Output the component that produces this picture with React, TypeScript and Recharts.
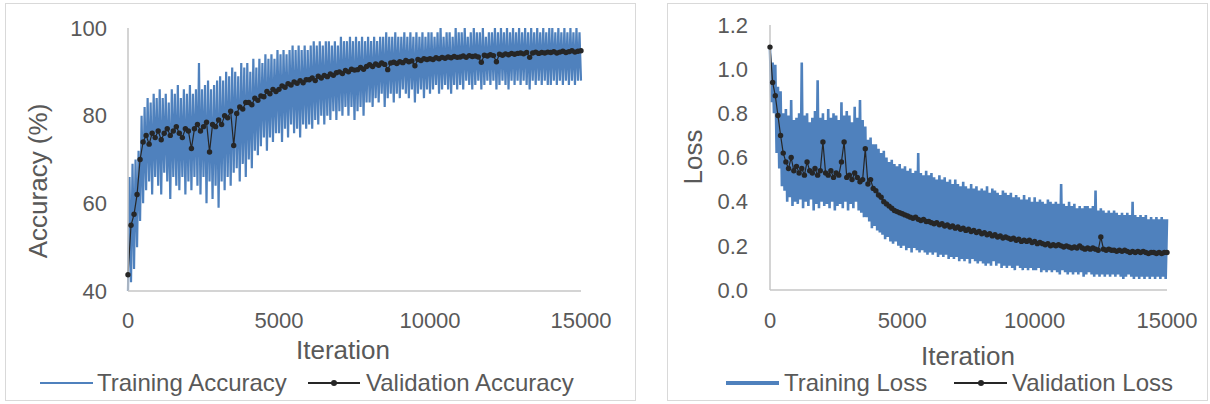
import React from "react";
import { LineChart, Line, XAxis, YAxis } from "recharts";

// training logged every 50 iterations, validation every 100 (0..15000)
const TRAIN_STEP = 50;
const VAL_STEP = 100;

const trainAccuracy = [
  40, 66, 42, 69, 45, 70, 50, 72, 56, 80, 60, 82, 63, 84, 65, 83, 62, 85, 66, 84,
  64, 86, 62, 84, 67, 85, 65, 83, 61, 86, 66, 85, 64, 87, 63, 84, 66, 86, 62, 85,
  65, 87, 63, 85, 66, 86, 64, 92, 62, 86, 66, 87, 60, 88, 65, 86, 61, 87, 64, 88,
  59, 89, 65, 88, 63, 90, 66, 89, 64, 91, 67, 90, 68, 89, 65, 92, 69, 91, 66, 92,
  70, 90, 68, 93, 72, 91, 71, 93, 73, 92, 75, 94, 72, 93, 75, 94, 74, 93, 76, 95,
  76, 94, 74, 95, 77, 94, 75, 95, 78, 96, 76, 95, 77, 96, 75, 95, 78, 96, 77, 95,
  78, 96, 77, 97, 79, 96, 78, 97, 80, 96, 78, 97, 80, 97, 79, 96, 81, 97, 79, 96,
  81, 98, 80, 97, 82, 97, 80, 98, 82, 97, 79, 98, 81, 97, 82, 98, 80, 97, 83, 98,
  83, 97, 82, 98, 84, 97, 83, 98, 85, 98, 82, 99, 84, 98, 85, 98, 83, 99, 85, 98,
  84, 98, 86, 99, 85, 98, 84, 99, 86, 98, 83, 99, 85, 98, 86, 99, 84, 98, 86, 99,
  85, 99, 86, 98, 87, 99, 85, 100, 86, 98, 87, 99, 86, 99, 85, 98, 87, 100, 86, 99,
  87, 99, 86, 100, 88, 98, 87, 99, 86, 100, 87, 99, 88, 99, 86, 100, 87, 98, 88, 99,
  87, 99, 88, 100, 86, 99, 87, 100, 88, 99, 87, 100, 86, 99, 88, 100, 87, 99, 88, 100,
  87, 99, 88, 100, 87, 99, 86, 100, 88, 99, 87, 100, 88, 99, 87, 100, 88, 99, 87, 100,
  87, 100, 88, 99, 87, 100, 88, 99, 87, 100, 88, 99, 87, 100, 88, 99, 87, 100, 88, 99,
  88,
];

const valAccuracy = [
  43.7, 55, 57.5, 62, 70, 74, 75.5, 73.5, 76, 75,
  76.5, 74.5, 76, 77, 75.5, 76.5, 77.5, 76, 75, 77,
  76.5, 72.5, 77, 78, 76.5, 77.5, 78.5, 71.7, 78, 77.5,
  79, 78, 80, 79.5, 81, 73.2, 80.5, 82, 81.5, 83,
  83, 82.5, 84, 83.5, 84.5, 84.3, 85.5, 85, 86, 85.5,
  86, 86.8, 86.5, 87.3, 87, 87.7, 87.4, 88, 87.5, 88.2,
  88.2, 88.6, 88, 89, 88.6, 89.2, 88.9, 89.5, 89.2, 89.8,
  90, 89.6, 90.3, 90, 90.6, 90.4, 90.5, 91, 90.6, 91.2,
  91.6, 91.2, 91.8, 91.5, 92, 91.7, 90.5, 92, 92.2, 91.9,
  92.3, 92.1, 92.6, 92.3, 92.5, 91.4, 92.8, 92.6, 93, 92.8,
  93, 92.8, 93.2, 93, 93.3, 93.1, 93.4, 93.2, 93.5, 93.3,
  93.4, 93.6, 93.3, 93.7, 93.5, 93.6, 93.4, 92.2, 93.8, 93.6,
  93.9, 93.7, 92.3, 94, 93.8, 94.1, 93.9, 94.2, 94, 94.2,
  94.3, 94.1, 94.4, 93.3, 94.3, 94.5, 94.2, 94.4, 94.3, 94.5,
  94.4, 94.6, 94.3, 94.5, 94.7, 94.4, 94.6, 94.8, 94.5, 94.7,
  94.8,
];

const trainLoss = [
  1.09, 0.85, 1.03, 0.8, 1.02, 0.62, 0.92, 0.55, 0.9, 0.47, 0.8, 0.45, 0.82, 0.4, 0.79, 0.42, 0.86, 0.38, 0.77, 0.4,
  0.78, 0.39, 0.8, 0.41, 1.03, 0.37, 0.79, 0.4, 0.8, 0.38, 0.76, 0.41, 0.78, 0.36, 0.81, 0.39, 0.95, 0.37, 0.78, 0.4,
  0.8, 0.38, 0.77, 0.39, 0.82, 0.37, 0.78, 0.4, 0.8, 0.36, 0.79, 0.38, 0.77, 0.39, 0.85, 0.37, 0.79, 0.4, 0.81, 0.36,
  0.79, 0.39, 0.76, 0.37, 0.83, 0.4, 0.78, 0.36, 0.86, 0.35, 0.77, 0.33, 0.74, 0.33, 0.68, 0.31, 0.69, 0.28, 0.66, 0.29,
  0.66, 0.27, 0.64, 0.26, 0.62, 0.25, 0.63, 0.23, 0.6, 0.24, 0.58, 0.22, 0.59, 0.21, 0.57, 0.22, 0.56, 0.2, 0.57, 0.19,
  0.55, 0.2, 0.56, 0.18, 0.54, 0.19, 0.55, 0.17, 0.53, 0.19, 0.54, 0.18, 0.62, 0.17, 0.53, 0.18, 0.52, 0.17, 0.54, 0.16,
  0.52, 0.17, 0.53, 0.16, 0.51, 0.17, 0.5, 0.15, 0.52, 0.16, 0.5, 0.15, 0.51, 0.16, 0.49, 0.14, 0.5, 0.15, 0.48, 0.14,
  0.5, 0.15, 0.48, 0.13, 0.47, 0.14, 0.49, 0.13, 0.47, 0.14, 0.46, 0.12, 0.48, 0.14, 0.46, 0.13, 0.47, 0.12, 0.45, 0.13,
  0.46, 0.12, 0.45, 0.11, 0.47, 0.12, 0.44, 0.11, 0.46, 0.13, 0.45, 0.11, 0.44, 0.12, 0.43, 0.1, 0.45, 0.11, 0.44, 0.1,
  0.43, 0.11, 0.44, 0.1, 0.42, 0.09, 0.43, 0.11, 0.42, 0.1, 0.41, 0.09, 0.43, 0.1, 0.41, 0.09, 0.42, 0.1, 0.4, 0.09,
  0.42, 0.09, 0.4, 0.1, 0.41, 0.08, 0.4, 0.09, 0.39, 0.08, 0.41, 0.09, 0.4, 0.08, 0.39, 0.09, 0.4, 0.08, 0.39, 0.07,
  0.48, 0.09, 0.39, 0.08, 0.38, 0.07, 0.4, 0.08, 0.38, 0.07, 0.39, 0.08, 0.37, 0.07, 0.38, 0.08, 0.37, 0.06, 0.38, 0.07,
  0.38, 0.08, 0.37, 0.07, 0.38, 0.06, 0.45, 0.07, 0.36, 0.06, 0.37, 0.07, 0.36, 0.06, 0.35, 0.07, 0.36, 0.06, 0.35, 0.07,
  0.36, 0.06, 0.35, 0.07, 0.34, 0.06, 0.35, 0.05, 0.34, 0.06, 0.35, 0.07, 0.34, 0.06, 0.4, 0.05, 0.34, 0.06, 0.33, 0.05,
  0.34, 0.06, 0.33, 0.05, 0.34, 0.06, 0.32, 0.05, 0.33, 0.06, 0.32, 0.05, 0.33, 0.06, 0.32, 0.05, 0.33, 0.06, 0.32, 0.05,
  0.32,
];

const valLoss = [
  1.1, 0.94, 0.88, 0.79, 0.7, 0.62, 0.58, 0.55, 0.6, 0.54,
  0.56, 0.53, 0.55, 0.52, 0.58, 0.54, 0.53, 0.55, 0.52, 0.54,
  0.67, 0.53, 0.52, 0.54, 0.51, 0.53, 0.52, 0.58, 0.67, 0.51,
  0.52, 0.5, 0.53, 0.51, 0.49, 0.5, 0.64, 0.48, 0.5, 0.46,
  0.45, 0.43, 0.42, 0.4, 0.39, 0.38, 0.37, 0.36, 0.355, 0.35,
  0.345, 0.34, 0.335, 0.33, 0.325, 0.33, 0.32, 0.315, 0.32, 0.31,
  0.31, 0.305, 0.3, 0.305, 0.295, 0.3, 0.29, 0.295, 0.285, 0.29,
  0.28, 0.285, 0.275, 0.28, 0.27, 0.275, 0.265, 0.27, 0.26, 0.265,
  0.255, 0.26, 0.25, 0.255, 0.245, 0.25, 0.24, 0.245, 0.235, 0.24,
  0.235, 0.23, 0.235, 0.225, 0.23, 0.22, 0.225, 0.22, 0.225, 0.215,
  0.22, 0.21, 0.215, 0.21, 0.205, 0.21, 0.2, 0.205, 0.2, 0.205,
  0.2, 0.195, 0.2, 0.195, 0.19, 0.195, 0.19, 0.2, 0.19, 0.185,
  0.19, 0.185, 0.19, 0.185, 0.18, 0.24, 0.185, 0.18, 0.185, 0.18,
  0.18, 0.175, 0.18, 0.175, 0.18, 0.175, 0.17, 0.175, 0.17, 0.175,
  0.17, 0.175, 0.17, 0.165, 0.17, 0.17, 0.165, 0.17, 0.165, 0.17,
  0.17,
];

const xTicks = [0, 5000, 10000, 15000];
const accTicks = [40, 60, 80, 100];
const lossTicks = [0, 0.2, 0.4, 0.6, 0.8, 1.0, 1.2];

const BLUE = "#4f81bd";
const DOT = "#262626";
const TEXT = "#595959";
const AXIS = "#c6c6c6";
const FONT = "'Liberation Sans', Arial, sans-serif";

// merge the two logs on the iteration axis
const merge = (train: number[], val: number[]) =>
  train.map((v, i) => {
    const iter = i * TRAIN_STEP;
    const vi = iter / VAL_STEP;
    return {
      iter,
      train: v,
      val: Number.isInteger(vi) ? val[vi] : null,
    };
  });

const accData = merge(trainAccuracy, valAccuracy);
const lossData = merge(trainLoss, valLoss);

const tickStyle = { fontSize: 22, fill: TEXT, fontFamily: FONT };

function Text({ x, y, size, children, rotate = false, anchor = "center" }: any) {
  const tx = anchor === "center" ? "-50%" : "0";
  return (
    <div
      style={{
        position: "absolute",
        left: x,
        top: y,
        transform: `translate(${tx}, -50%)${rotate ? " rotate(-90deg)" : ""}`,
        fontSize: size,
        color: TEXT,
        fontFamily: FONT,
        whiteSpace: "nowrap",
        lineHeight: 1,
      }}
    >
      {children}
    </div>
  );
}

function LegendLine({ x, y, w, thick, color, dot }: any) {
  return (
    <>
      <div
        style={{
          position: "absolute",
          left: x,
          top: y - thick / 2,
          width: w,
          height: thick,
          background: color,
        }}
      />
      {dot && (
        <div
          style={{
            position: "absolute",
            left: x + w / 2 - 3,
            top: y - 3,
            width: 6,
            height: 6,
            borderRadius: 3,
            background: color,
          }}
        />
      )}
    </>
  );
}

const panelStyle = (left: number, width: number): React.CSSProperties => ({
  position: "absolute",
  left,
  top: 3,
  width,
  height: 398,
  border: "1px solid #d9d9d9",
  boxSizing: "border-box",
  background: "#fff",
});

export default function App() {
  return (
    <div
      style={{
        position: "absolute",
        left: 0,
        top: 0,
        width: 1210,
        height: 404,
        background: "#fff",
        fontFamily: FONT,
        overflow: "hidden",
      }}
    >
      <div style={panelStyle(5, 631)} />
      <div style={panelStyle(667, 541)} />

      {/* accuracy */}
      <div style={{ position: "absolute", left: 5, top: 3 }}>
        <LineChart
          width={630}
          height={398}
          data={accData}
          margin={{ top: 25, right: 54, left: 0, bottom: 0 }}
        >
          <XAxis
            dataKey="iter"
            type="number"
            domain={[0, 15000]}
            ticks={xTicks}
            tickLine={false}
            tickMargin={15}
            stroke={AXIS}
            strokeWidth={1.5}
            tick={tickStyle}
            height={110}
            interval={0}
          />
          <YAxis
            type="number"
            domain={[40, 100]}
            ticks={accTicks}
            tickLine={false}
            tickMargin={15}
            stroke={AXIS}
            strokeWidth={1.5}
            tick={tickStyle}
            width={123}
            interval={0}
          />
          <Line
            type="linear"
            dataKey="train"
            stroke={BLUE}
            strokeWidth={2.2}
            dot={false}
            isAnimationActive={false}
          />
          <Line
            type="linear"
            dataKey="val"
            stroke={DOT}
            strokeWidth={1.2}
            connectNulls
            dot={{ r: 2.7, fill: DOT, stroke: DOT, strokeWidth: 0 }}
            isAnimationActive={false}
          />
        </LineChart>
      </div>

      {/* loss */}
      <div style={{ position: "absolute", left: 667, top: 3 }}>
        <LineChart
          width={540}
          height={398}
          data={lossData}
          margin={{ top: 22, right: 40, left: 0, bottom: 0 }}
        >
          <XAxis
            dataKey="iter"
            type="number"
            domain={[0, 15000]}
            ticks={xTicks}
            tickLine={false}
            tickMargin={16}
            stroke={AXIS}
            strokeWidth={1.5}
            tick={tickStyle}
            height={111}
            interval={0}
          />
          <YAxis
            type="number"
            domain={[0, 1.2]}
            ticks={lossTicks}
            tickFormatter={(v: number) => v.toFixed(1)}
            tickLine={false}
            tickMargin={16}
            stroke={AXIS}
            strokeWidth={1.5}
            tick={tickStyle}
            width={103}
            interval={0}
          />
          <Line
            type="linear"
            dataKey="train"
            stroke={BLUE}
            strokeWidth={2.6}
            dot={false}
            isAnimationActive={false}
          />
          <Line
            type="linear"
            dataKey="val"
            stroke={DOT}
            strokeWidth={1.2}
            connectNulls
            dot={{ r: 2.7, fill: DOT, stroke: DOT, strokeWidth: 0 }}
            isAnimationActive={false}
          />
        </LineChart>
      </div>

      {/* axis titles */}
      <Text x={38} y={181} size={26} rotate>
        Accuracy (%)
      </Text>
      <Text x={343} y={350} size={26}>
        Iteration
      </Text>
      <Text x={693} y={157} size={26} rotate>
        Loss
      </Text>
      <Text x={968} y={356} size={26}>
        Iteration
      </Text>

      {/* legends */}
      <LegendLine x={40} y={383} w={53} thick={2.5} color={BLUE} />
      <Text x={97} y={383} size={24} anchor="left">
        Training Accuracy
      </Text>
      <LegendLine x={308} y={383} w={52} thick={1.5} color={DOT} dot />
      <Text x={366} y={383} size={24} anchor="left">
        Validation Accuracy
      </Text>

      <LegendLine x={726} y={383} w={53} thick={4} color={BLUE} />
      <Text x={784} y={383} size={24} anchor="left">
        Training Loss
      </Text>
      <LegendLine x={954} y={383} w={53} thick={1.5} color={DOT} dot />
      <Text x={1012} y={383} size={24} anchor="left">
        Validation Loss
      </Text>
    </div>
  );
}
